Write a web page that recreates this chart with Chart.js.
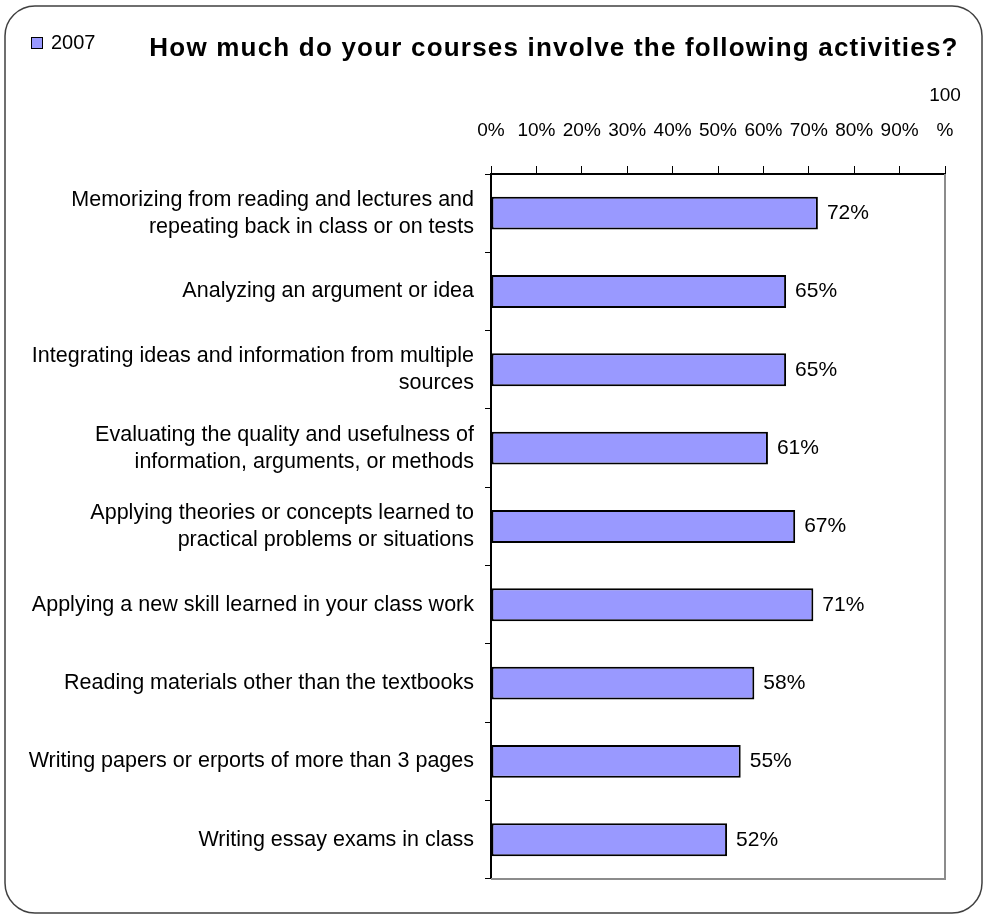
<!DOCTYPE html>
<html>
<head>
<meta charset="utf-8">
<script src="https://cdn.jsdelivr.net/npm/chart.js@4/dist/chart.umd.min.js"></script>
<style>
  body { margin: 0; background: #fff; }
  #wrap { width: 985px; height: 917px; }
</style>
</head>
<body>
<div id="wrap"><canvas id="activitiesChart" width="985" height="917"></canvas></div>
<script>
const categories = [
    ['Memorizing from reading and lectures and', 'repeating back in class or on tests'],
    'Analyzing an argument or idea',
    ['Integrating ideas and information from multiple', 'sources'],
    ['Evaluating the quality and usefulness of', 'information, arguments, or methods'],
    ['Applying theories or concepts learned to', 'practical problems or situations'],
    'Applying a new skill learned in your class work',
    'Reading materials other than the textbooks',
    'Writing papers or erports of more than 3 pages',
    'Writing essay exams in class',
];
const values2007 = [72, 65, 65, 61, 67, 71, 58, 55, 52];
const seriesLabel = '2007';
const titleText = 'How much do your courses involve the following activities?';

const fontFamily = '"Liberation Sans", Arial, sans-serif';
const barColor = '#9999FF';

// frame, legend, title, plot border and value labels
const decorations = {
    id: 'decorations',
    beforeDraw(chart) {
        const ctx = chart.ctx;
        ctx.save();
        ctx.fillStyle = '#fff';
        ctx.fillRect(0, 0, chart.width, chart.height);
        ctx.beginPath();
        ctx.roundRect(5, 6, 977, 907, 30);
        ctx.lineWidth = 1.5;
        ctx.strokeStyle = '#404040';
        ctx.stroke();
        ctx.restore();
    },
    beforeDatasetsDraw(chart) {
        const ctx = chart.ctx;
        const a = chart.chartArea;
        ctx.save();
        ctx.strokeStyle = '#8c8c8c';
        ctx.lineWidth = 2;
        ctx.beginPath();
        ctx.moveTo(a.left, a.bottom);
        ctx.lineTo(a.right, a.bottom);
        ctx.lineTo(a.right, a.top);
        ctx.stroke();
        ctx.restore();
    },
    afterDatasetsDraw(chart) {
        const ctx = chart.ctx;
        const ds = chart.data.datasets[0];
        ctx.save();
        ctx.font = '21px ' + fontFamily;
        ctx.fillStyle = '#000';
        ctx.textBaseline = 'middle';
        ctx.textAlign = 'left';
        chart.getDatasetMeta(0).data.forEach(function (bar, i) {
            ctx.fillText(ds.data[i] + '%', bar.x + 9, bar.y);
        });
        ctx.restore();
    },
    afterDraw(chart) {
        const ctx = chart.ctx;
        const ds = chart.data.datasets[0];
        ctx.save();
        // legend
        ctx.fillStyle = ds.backgroundColor;
        ctx.fillRect(31, 37, 12, 12);
        ctx.strokeStyle = '#000';
        ctx.lineWidth = 1;
        ctx.strokeRect(31.5, 37.5, 11, 11);
        ctx.fillStyle = '#000';
        ctx.font = '20px ' + fontFamily;
        ctx.textBaseline = 'middle';
        ctx.textAlign = 'left';
        ctx.fillText(ds.label, 51, 43);
        // title
        ctx.font = 'bold 26px ' + fontFamily;
        ctx.letterSpacing = '1.2px';
        ctx.textAlign = 'center';
        ctx.fillText(titleText, 554, 49);
        ctx.restore();
    },
};

new Chart(document.getElementById('activitiesChart'), {
    type: 'bar',
    data: {
        labels: categories,
        datasets: [
            {
                label: seriesLabel,
                data: values2007,
                backgroundColor: barColor,
                borderColor: '#000',
                borderWidth: 2,
                borderSkipped: false,
                categoryPercentage: 1,
                barPercentage: 0.42,
            },
        ],
    },
    options: {
        indexAxis: 'y',
        responsive: false,
        animation: false,
        layout: {
            padding: { left: 0, right: 40, top: 0, bottom: 30 },
        },
        plugins: {
            legend: { display: false },
            title: { display: false },
            tooltip: { enabled: false },
        },
        scales: {
            x: {
                position: 'top',
                min: 0,
                max: 100,
                afterFit: function (scale) {
                    scale.height = 174;
                },
                grid: {
                    drawOnChartArea: false,
                    tickLength: 8,
                    color: '#000',
                },
                border: { color: '#000', width: 2 },
                ticks: {
                    stepSize: 10,
                    padding: 18,
                    color: '#000',
                    maxRotation: 0,
                    minRotation: 0,
                    font: { family: fontFamily, size: 19, lineHeight: 1.85 },
                    callback: function (value) {
                        if (value === 100) {
                            return ['100', '%'];
                        }
                        return value + '%';
                    },
                },
            },
            y: {
                afterFit: function (scale) {
                    scale.width = 491;
                },
                grid: {
                    offset: true,
                    drawOnChartArea: false,
                    tickLength: 6,
                    color: '#000',
                },
                border: { color: '#000', width: 2 },
                ticks: {
                    padding: 11,
                    color: '#000',
                    font: { family: fontFamily, size: 21.5, lineHeight: 1.26 },
                },
            },
        },
    },
    plugins: [decorations],
});
</script>
</body>
</html>
